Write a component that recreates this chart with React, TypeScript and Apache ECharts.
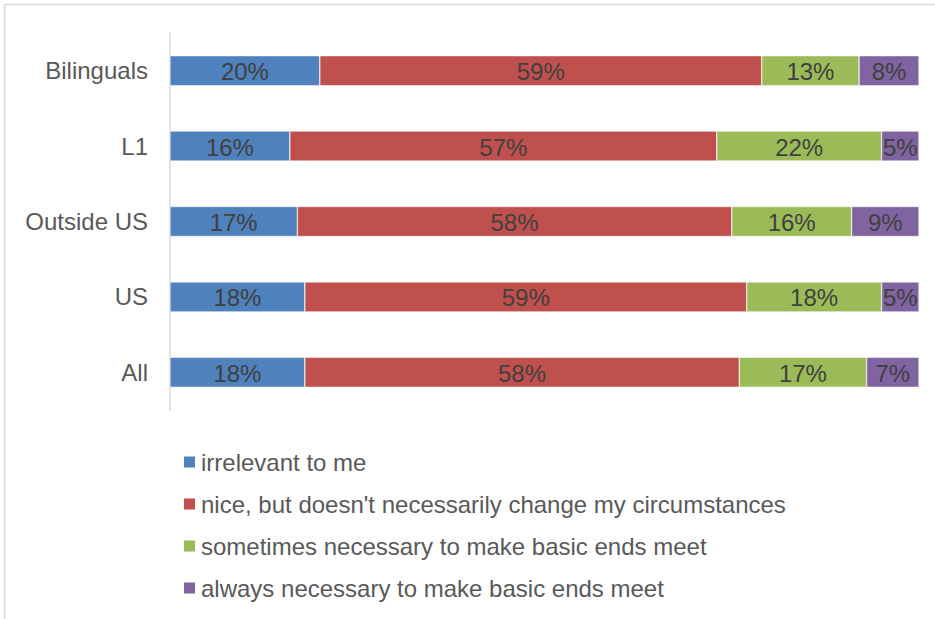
import React, { useEffect, useRef } from "react";
import * as echarts from "echarts";

const categories = ["Bilinguals", "L1", "Outside US", "US", "All"];
const seriesNames = [
  "irrelevant to me",
  "nice, but doesn't necessarily change my circumstances",
  "sometimes necessary to make basic ends meet",
  "always necessary to make basic ends meet",
];
const irrelevant = [20, 16, 17, 18, 18];
const niceButNot = [59, 57, 58, 59, 58];
const sometimesNeeded = [13, 22, 16, 18, 17];
const alwaysNeeded = [8, 5, 9, 5, 7];
const colors = ["#4F81BD", "#C0504D", "#9BBB59", "#8064A2"];

const FONT = "Liberation Sans, Arial, sans-serif";

export default function App() {
  const ref = useRef<HTMLDivElement>(null);

  useEffect(() => {
    if (!ref.current) return;
    const chart = echarts.init(ref.current, null, { renderer: "svg" });
    const values = [irrelevant, niceButNot, sometimesNeeded, alwaysNeeded];
    chart.setOption({
      animation: false,
      backgroundColor: "#ffffff",
      textStyle: { fontFamily: FONT },
      grid: { left: 170, right: 16, top: 33, height: 377 },
      xAxis: { type: "value", min: 0, max: 100, show: false },
      yAxis: {
        type: "category",
        data: categories,
        inverse: true,
        axisLine: { show: true, lineStyle: { color: "#d9d9d9", width: 1.5 } },
        axisTick: { show: false },
        axisLabel: { color: "#595959", fontSize: 24, margin: 22, fontFamily: FONT },
      },
      legend: {
        orient: "vertical",
        left: 182,
        top: 450,
        padding: 0,
        itemWidth: 13,
        itemHeight: 13,
        itemGap: 18,
        icon: "rect",
        textStyle: { color: "#595959", fontSize: 24, lineHeight: 24, fontFamily: FONT },
        data: seriesNames,
      },
      graphic: [
        { type: "line", shape: { x1: 4.5, y1: 4.5, x2: 935, y2: 4.5 }, style: { stroke: "#d9d9d9", lineWidth: 1.5 } },
        { type: "line", shape: { x1: 4.5, y1: 4.5, x2: 4.5, y2: 619 }, style: { stroke: "#d9d9d9", lineWidth: 1.5 } },
      ],
      series: seriesNames.map((name, i) => ({
        name,
        type: "bar",
        stack: "total",
        barWidth: 30,
        data: values[i],
        itemStyle: { color: colors[i], borderColor: "#ffffff", borderWidth: 0.5 },
        label: {
          show: true,
          position: "inside",
          offset: [0, 1],
          formatter: "{c}%",
          color: "#404040",
          fontSize: 24,
          fontFamily: FONT,
        },
      })),
    });
    return () => chart.dispose();
  }, []);

  return (
    <div
      ref={ref}
      style={{ position: "fixed", left: 0, top: 0, width: 935, height: 619, background: "#fff" }}
    />
  );
}
